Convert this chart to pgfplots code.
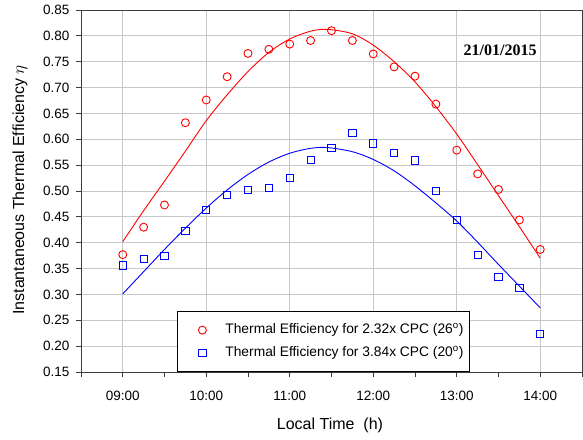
\documentclass[border=0pt]{standalone}
\usepackage{fontspec}
\setmainfont{Liberation Sans}
\newfontfamily\timesfont{Liberation Serif}
\usepackage{pgfplots}
\pgfplotsset{compat=1.18}
\definecolor{gridc}{RGB}{200,200,200}
\definecolor{axc}{RGB}{60,60,60}
\begin{document}
\begin{tikzpicture}
\begin{axis}[
  at={(0,0)}, anchor=south west,
  scale only axis, width=501pt, height=362pt,
  xmin=8.5, xmax=14.5, ymin=0.15, ymax=0.85,
  xtick={9,10,11,12,13,14},
  xticklabels={09:00,10:00,11:00,12:00,13:00,14:00},
  minor xtick={8.5,9.5,10.5,11.5,12.5,13.5,14.5},
  ytick={0.15,0.20,0.25,0.30,0.35,0.40,0.45,0.50,0.55,0.60,0.65,0.70,0.75,0.80,0.85},
  xmajorgrids, ymajorgrids,
  grid style={gridc, line width=0.9pt},
  axis line style={axc, line width=0.9pt},
  tick style={axc, line width=0.8pt},
  tick align=outside, major tick length=5pt, minor tick length=5pt,
  xtick pos=bottom, ytick pos=left,
  /pgf/number format/fixed, /pgf/number format/fixed zerofill,
  /pgf/number format/precision=2, /pgf/number format/assume math mode=true,
  tick label style={font=\fontsize{13.5}{16}\selectfont, text=black},
  xticklabel style={yshift=-11pt},
  yticklabel style={xshift=-3pt},
  xlabel={Local Time~~(h)},
  ylabel={Instantaneous Thermal Efficiency $\eta$},
  label style={font=\fontsize{16}{19}\selectfont},
  xlabel style={at={(axis description cs:0.497,-0.1464)}, anchor=center},
  ylabel style={at={(axis description cs:-0.1218,0.503)}, anchor=center},
  legend style={at={(axis description cs:0.1916,0)}, anchor=south west,
    draw=black, line width=0.8pt, inner xsep=5pt, inner ysep=11pt,
    row sep=8pt, font=\fontsize{13.8}{16}\selectfont,
    nodes={inner sep=1pt, text height=10pt, text depth=3pt}},
  legend cell align=left,
  legend image code/.code={\path (0pt,-1pt) rectangle (42pt,1pt);
    \draw[mark repeat=2,mark phase=2,#1,only marks] plot coordinates {(0pt,0pt) (20pt,0pt) (42pt,0pt)};},
]
\addplot[red, line width=0.9pt, smooth, forget plot] coordinates {
 (9.00,0.402) (9.25,0.462) (9.50,0.519) (9.75,0.577) (10.00,0.636)
 (10.25,0.686) (10.50,0.731) (10.75,0.768) (11.00,0.794) (11.25,0.809)
 (11.45,0.8126) (11.75,0.804) (12.00,0.782) (12.25,0.750)
 (12.50,0.711) (12.75,0.663) (13.00,0.610) (13.25,0.551) (13.50,0.491)
 (13.75,0.431) (14.00,0.370)};
\addplot[blue, line width=0.9pt, smooth, forget plot] coordinates {
 (9.00,0.301) (9.25,0.344) (9.50,0.387) (9.75,0.428) (10.00,0.467)
 (10.25,0.502) (10.50,0.532) (10.75,0.556) (11.00,0.573) (11.25,0.5825)
 (11.45,0.5840) (11.75,0.576) (12.00,0.561) (12.25,0.539)
 (12.50,0.510) (12.75,0.477) (13.00,0.442) (13.25,0.401) (13.50,0.358)
 (13.75,0.316) (14.00,0.274)};
\addplot[draw=none, mark=o, mark size=4pt, mark options={draw=red, solid, line width=0.9pt}]
 coordinates {
 (9.00,0.377) (9.25,0.430) (9.50,0.473) (9.75,0.632) (10.00,0.676)
 (10.25,0.721) (10.50,0.766) (10.75,0.774) (11.00,0.784) (11.25,0.791)
 (11.50,0.810) (11.75,0.791) (12.00,0.765) (12.25,0.740) (12.50,0.722)
 (12.75,0.668) (13.00,0.579) (13.25,0.533) (13.50,0.503) (13.75,0.444)
 (14.00,0.387)};
\addlegendentry{Thermal Efficiency for 2.32x CPC (26\textsuperscript{o})}
\addplot[draw=none, mark=square, mark size=3.6pt, mark options={draw=blue, solid, line width=0.9pt}]
 coordinates {
 (9.00,0.356) (9.25,0.369) (9.50,0.375) (9.75,0.422) (10.00,0.464)
 (10.25,0.492) (10.50,0.502) (10.75,0.506) (11.00,0.526) (11.25,0.560)
 (11.50,0.584) (11.75,0.613) (12.00,0.592) (12.25,0.574) (12.50,0.559)
 (12.75,0.500) (13.00,0.4435) (13.25,0.377) (13.50,0.334) (13.75,0.312)
 (14.00,0.2235)};
\addlegendentry{Thermal Efficiency for 3.84x CPC (20\textsuperscript{o})}
\node[font=\timesfont\bfseries\fontsize{16}{19}\selectfont] at (axis cs:13.52,0.7726) {21/01/2015};
\end{axis}
\pgfresetboundingbox
\path (-81pt,-67pt) rectangle (502pt,372pt);
\end{tikzpicture}
\end{document}
